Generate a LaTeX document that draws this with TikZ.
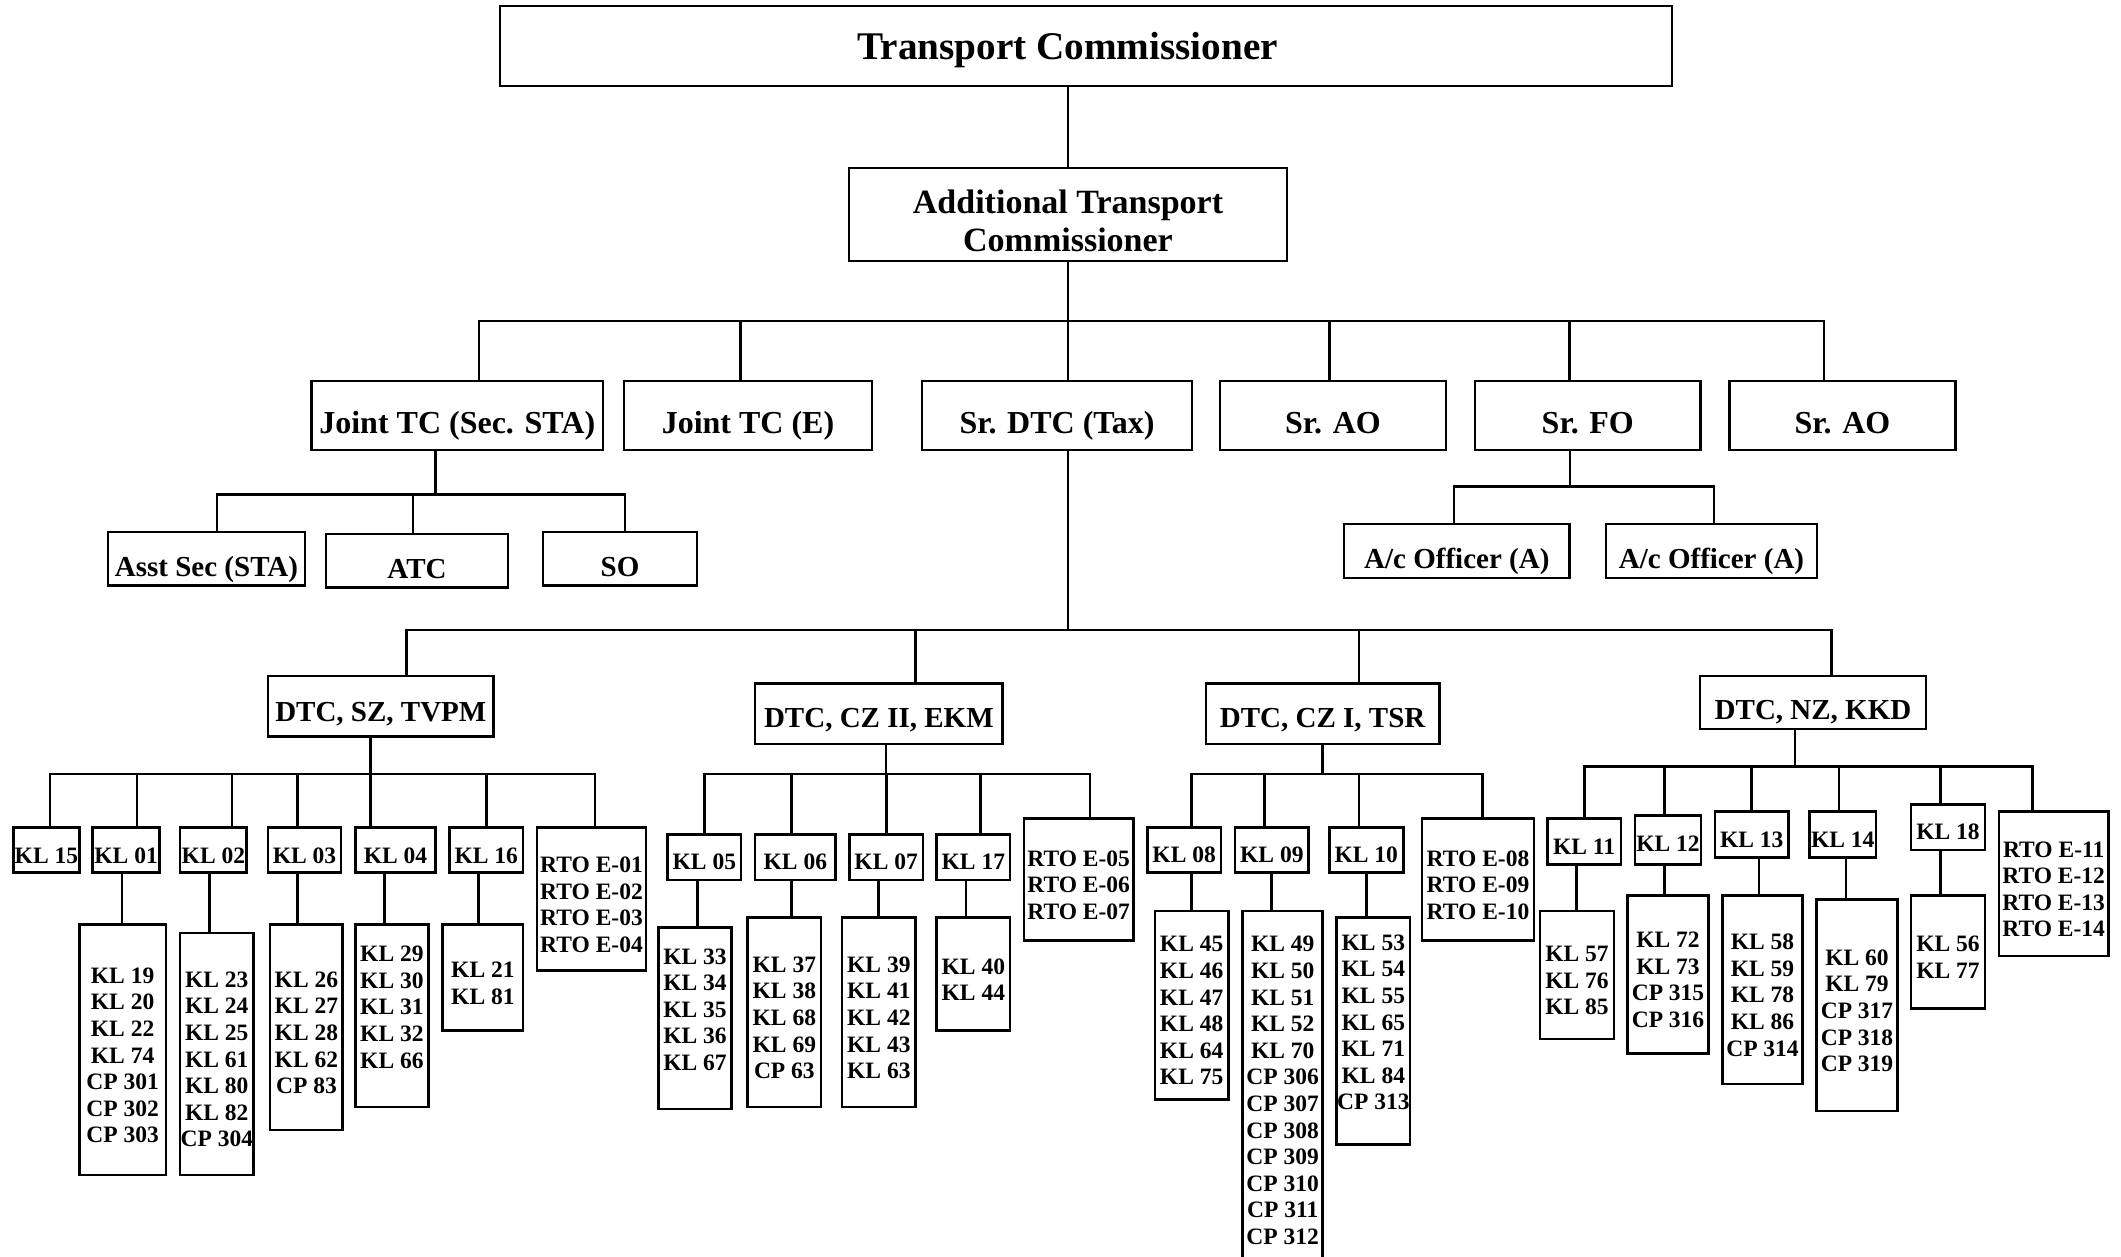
\documentclass[tikz,border=0pt]{standalone}
\usepackage{fontspec}
\setmainfont{Liberation Serif}
\newcommand\lsttop{\rule{0pt}{13.3pt}}
\newcommand\lstbot{\rule[-8.8pt]{0pt}{8.8pt}}
\begin{document}
\begin{tikzpicture}[x=0.5pt,y=-0.5pt,
  bx/.style={draw,line width=1.4pt,rectangle,inner sep=0pt,outer sep=0pt},
  lst/.style={draw,line width=1.4pt,rectangle,inner sep=0pt,outer sep=0pt,align=center,font=\fontsize{11.75}{13.3}\selectfont\bfseries},
  ln/.style={line width=1.4pt},
  fA/.style={font=\fontsize{19.6}{22}\selectfont\bfseries},
  fB/.style={font=\fontsize{16}{18}\selectfont\bfseries},
  fC/.style={font=\fontsize{14.5}{16}\selectfont\bfseries},
  fK/.style={font=\fontsize{11.75}{13.3}\selectfont\bfseries},
  sz/.style 2 args={minimum width=#1pt,minimum height=#2pt},
  th/.style={text height=#1pt,text depth=0pt}
]
\useasboundingbox (0,0) rectangle (2121,1257);
\fill[white] (0,0) rectangle (2121,1257);

% ---- top levels
\node[bx,fA,sz={586}{40},th={13.3}] (tc) at (1086,46) {Transport Commissioner\hspace*{18.2pt}};
\node[bx,align=center,font=\fontsize{17}{19}\selectfont\bfseries,sz={219}{46.5}] (atc) at (1068,214.5) {\rule{0pt}{18.5pt}Additional Transport\\Commissioner};

\node[bx,fB,sz={145.75}{34.5},th={17.5}] (jtcs) at (457.25,415.5) {Joint TC (Sec. STA)};
\node[bx,fB,sz={124}{34.5},th={18}] (jtce) at (748,415.5) {Joint TC (E)};
\node[bx,fB,sz={135}{34.5},th={18}] (srdtc) at (1057,415.5) {Sr. DTC (Tax)};
\node[bx,fB,sz={113}{34.5},th={18}] (srao1) at (1333,415.5) {Sr. AO};
\node[bx,fB,sz={112.8}{34.5},th={18}] (srfo) at (1587.8,415.5) {Sr. FO};
\node[bx,fB,sz={112.9}{34.5},th={18}] (srao2) at (1842.5,415.5) {Sr. AO};

\node[bx,fC,sz={98.5}{26.75},th={17.25}] (asst) at (206.5,558.75) {Asst Sec (STA)};
\node[bx,fC,sz={91}{26.75},th={17.25}] (atcb) at (417,560.75) {ATC};
\node[bx,fC,sz={77}{26.75},th={17.25}] (so) at (620,558.75) {SO};
\node[bx,fC,sz={112.8}{27},th={17}] (ac1) at (1456.8,551) {A/c Officer (A)};
\node[bx,fC,sz={105.5}{27},th={17}] (ac2) at (1711.5,551) {A/c Officer (A)};

% ---- zones
\node[bx,fC,sz={112.8}{30.3},th={15.2}] (dsz) at (380.8,706.3) {DTC, SZ, TVPM};
\node[bx,fC,sz={123.85}{30.1},th={13.9}] (dcz2) at (878.85,713.9) {DTC, CZ II, EKM};
\node[bx,fC,sz={116.65}{30.1},th={13.9}] (dcz1) at (1322.65,713.9) {DTC, CZ I, TSR};
\node[bx,fC,sz={113}{26.5},th={16.9}] (dnz) at (1813,702.5) {DTC, NZ, KKD};

% ---- KL row, SZ
\node[bx,fK,sz={32.8}{22.65},th={12.85}] (kl15) at (46.4,850.15) {KL 15};
\node[bx,fK,sz={33.3}{22.65},th={12.85}] (kl01) at (126.1,850.15) {KL 01};
\node[bx,fK,sz={33.4}{22.65},th={12.85}] (kl02) at (213.4,850.15) {KL 02};
\node[bx,fK,sz={36.5}{22.65},th={12.85}] (kl03) at (304.5,850.15) {KL 03};
\node[bx,fK,sz={40.1}{22.65},th={12.85}] (kl04) at (395.5,850.15) {KL 04};
\node[bx,fK,sz={36.7}{22.65},th={12.85}] (kl16) at (486.3,850.15) {KL 16};
\node[lst,sz={54.5}{71.65}] (rto1) at (591.5,899.15) {\lsttop RTO E-01\\RTO E-02\\RTO E-03\\RTO E-04};

% ---- KL row, CZ II
\node[bx,fK,sz={36.65}{22.7},th={12.1}] (kl05) at (704.35,857.3) {KL 05};
\node[bx,fK,sz={40.35}{22.7},th={12.1}] (kl06) at (795.35,857.3) {KL 06};
\node[bx,fK,sz={36.85}{22.7},th={12.1}] (kl07) at (886.15,857.3) {KL 07};
\node[bx,fK,sz={36.65}{22.7},th={12.1}] (kl17) at (973.35,857.3) {KL 17};
\node[lst,sz={54.65}{60.95}] (rto2) at (1078.65,879.65) {\lsttop RTO E-05\\RTO E-06\\RTO E-07};

% ---- KL row, CZ I
\node[bx,fK,sz={36.85}{22.65},th={12.5}] (kl08) at (1184.15,850.15) {KL 08};
\node[bx,fK,sz={36.85}{22.65},th={12.5}] (kl09) at (1271.85,850.15) {KL 09};
\node[bx,fK,sz={37}{22.65},th={12.5}] (kl10) at (1366.3,850.15) {KL 10};
\node[lst,sz={56}{60.95}] (rto3) at (1478,879.65) {\lsttop RTO E-08\\RTO E-09\\RTO E-10};

% ---- KL row, NZ
\node[bx,fK,sz={36.85}{23.05},th={12.5}] (kl11) at (1584.15,841.75) {KL 11};
\node[bx,fK,sz={33}{24.5},th={11.1}] (kl12) at (1668,840.3) {KL 12};
\node[bx,fK,sz={36.65}{23.05},th={12.5}] (kl13) at (1751.65,834.65) {KL 13};
\node[bx,fK,sz={33.35}{23.05},th={12.5}] (kl14) at (1842.65,834.65) {KL 14};
\node[bx,fK,sz={37}{22.75},th={12.5}] (kl18) at (1948,827.25) {KL 18};
\node[lst,sz={54.65}{72.2}] (rto4) at (2053.65,883.8) {\lsttop RTO E-11\\RTO E-12\\RTO E-13\\RTO E-14};

% ---- sub offices
\node[lst,sz={43.4}{125.15}] (c01) at (122.6,1049.85) {\lsttop KL 19\\KL 20\\KL 22\\KL 74\\CP 301\\CP 302\\CP 303};
\node[lst,sz={36.8}{121}] (c02) at (216.8,1054) {\lsttop KL 23\\KL 24\\KL 25\\KL 61\\KL 80\\KL 82\\CP 304};
\node[lst,sz={36.4}{102.65}] (c03) at (306.4,1027.35) {\lsttop KL 26\\KL 27\\KL 28\\KL 62\\CP 83};
\node[lst,sz={36.5}{91.15}] (c04) at (391.9,1015.85) {KL 29\\KL 30\\KL 31\\KL 32\\KL 66\lstbot};
\node[lst,sz={40.1}{53}] (c16) at (482.9,977.7) {\lsttop KL 21\\KL 81};
\node[lst,sz={36.7}{90.65}] (c05) at (695,1018.35) {KL 33\\KL 34\\KL 35\\KL 36\\KL 67\lstbot};
\node[lst,sz={36.65}{94.7}] (c06) at (784.35,1012.3) {\lsttop KL 37\\KL 38\\KL 68\\KL 69\\CP 63};
\node[lst,sz={36.85}{94.7}] (c07) at (878.85,1012.3) {\lsttop KL 39\\KL 41\\KL 42\\KL 43\\KL 63};
\node[lst,sz={36.65}{56.55}] (c17) at (973.35,974.15) {\lsttop KL 40\\KL 44};
\node[lst,sz={36.65}{94.2}] (c08) at (1191.65,1005.2) {\lsttop KL 45\\KL 46\\KL 47\\KL 48\\KL 64\\KL 75};
\node[lst,sz={40}{179.5}] (c09) at (1282.7,1090.5) {KL 49\\KL 50\\KL 51\\KL 52\\KL 70\\CP 306\\CP 307\\CP 308\\CP 309\\CP 310\\CP 311\\CP 312};
\node[lst,sz={36.65}{113.55}] (c10) at (1373.35,1031.15) {KL 53\\KL 54\\KL 55\\KL 65\\KL 71\\KL 84\\CP 313\lstbot};
\node[lst,sz={37}{64}] (c11) at (1577,975) {\lsttop KL 57\\KL 76\\KL 85};
\node[lst,sz={40.3}{79}] (c12) at (1668,974.4) {\lsttop KL 72\\KL 73\\CP 315\\CP 316};
\node[lst,sz={40.2}{94.3}] (c13) at (1762.5,989.7) {\lsttop KL 58\\KL 59\\KL 78\\KL 86\\CP 314};
\node[lst,sz={40.3}{105.7}] (c14) at (1857,1005.3) {\lsttop KL 60\\KL 79\\CP 317\\CP 318\\CP 319};
\node[lst,sz={37}{56.55}] (c18) at (1948,951.95) {\lsttop KL 56\\KL 77};

% ---- connectors, top
\draw[ln] (atc.north) |- (tc.south);
\draw[ln] (atc.south) -- ++(0,60) coordinate (jt);
\draw[ln] (jt) -| ([xshift=10.9pt]jtcs.north);
\draw[ln] (jt) -| ([xshift=-3.8pt]jtce.north);
\draw[ln] (jt) -| ([xshift=5.5pt]srdtc.north);
\draw[ln] (jt) -| ([xshift=-1.7pt]srao1.north);
\draw[ln] (jt) -| ([xshift=-9.1pt]srfo.north);
\draw[ln] (jt) -| ([xshift=-9.25pt]srao2.north);

\draw[ln] ([xshift=-10.8pt]jtcs.south) -- ++(0,44.5) coordinate (j1);
\draw[ln] (j1) -| ([xshift=5.25pt]asst.north);
\draw[ln] (j1) -| ([xshift=-2pt]atcb.north);
\draw[ln] (j1) -| ([xshift=2.5pt]so.north);

\draw[ln] ([xshift=-8.9pt]srfo.south) -- ++(0,36.8) coordinate (j2);
\draw[ln] (j2) -| ([xshift=-1.4pt]ac1.north);
\draw[ln] (j2) -| ([xshift=1.25pt]ac2.north);

\draw[ln] ([xshift=5.5pt]srdtc.south) -- ++(0,180) coordinate (jm);
\draw[ln] (jm) -| ([xshift=12.9pt]dsz.north);
\draw[ln] (jm) -| ([xshift=18.2pt]dcz2.north);
\draw[ln] (jm) -| ([xshift=18.2pt]dcz1.north);
\draw[ln] (jm) -| ([xshift=9.35pt]dnz.north);

% ---- SZ
\draw[ln] ([xshift=-5.2pt]dsz.south) -- ++(0,37.4) coordinate (j3);
\draw[ln] (j3) -| ([xshift=1.8pt]kl15.north);
\draw[ln] (j3) -| ([xshift=5.45pt]kl01.north);
\draw[ln] (j3) -| ([xshift=9.3pt]kl02.north);
\draw[ln] (j3) -| ([xshift=-3.5pt]kl03.north);
\draw[ln] (j3) -| ([xshift=-12.55pt]kl04.north);
\draw[ln] (j3) -| (kl16.north);
\draw[ln] (j3) -| ([xshift=1.75pt]rto1.north);
\draw[ln] ([xshift=-2.05pt]kl01.south) |- (c01.north);
\draw[ln] ([xshift=-1.9pt]kl02.south) |- (c02.north);
\draw[ln] ([xshift=-3.5pt]kl03.south) |- (c03.north);
\draw[ln] ([xshift=-5.55pt]kl04.south) |- (c04.north);
\draw[ln] ([xshift=-3.85pt]kl16.south) |- (c16.north);

% ---- CZ II
\draw[ln] ([xshift=3.6pt]dcz2.south) -- ++(0,30) coordinate (j4);
\draw[ln] (j4) -| (kl05.north);
\draw[ln] (j4) -| ([xshift=-1.8pt]kl06.north);
\draw[ln] (j4) -| (kl07.north);
\draw[ln] (j4) -| ([xshift=3.7pt]kl17.north);
\draw[ln] (j4) -| ([xshift=5.7pt]rto2.north);
\draw[ln] ([xshift=-3.5pt]kl05.south) |- (c05.north);
\draw[ln] ([xshift=-1.8pt]kl06.south) |- (c06.north);
\draw[ln] ([xshift=-3.7pt]kl07.south) |- (c07.north);
\draw[ln] ([xshift=-3.7pt]kl17.south) |- (c17.north);

% ---- CZ I
\draw[ln] (dcz1.south) -- ++(0,30) coordinate (j5);
\draw[ln] (j5) -| ([xshift=3.8pt]kl08.north);
\draw[ln] (j5) -| ([xshift=-3.8pt]kl09.north);
\draw[ln] (j5) -| ([xshift=-3.65pt]kl10.north);
\draw[ln] (j5) -| ([xshift=2.15pt]rto3.north);
\draw[ln] ([xshift=3.8pt]kl08.south) |- (c08.north);
\draw[ln] (kl09.south) |- (c09.north);
\draw[ln] (kl10.south) |- (c10.north);

% ---- NZ
\draw[ln] ([xshift=-9pt]dnz.south) -- ++(0,37.8) coordinate (j6);
\draw[ln] (j6) -| (kl11.north);
\draw[ln] (j6) -| ([xshift=-1.85pt]kl12.north);
\draw[ln] (j6) -| (kl13.north);
\draw[ln] (j6) -| ([xshift=-1.8pt]kl14.north);
\draw[ln] (j6) -| ([xshift=-3.65pt]kl18.north);
\draw[ln] (j6) -| ([xshift=-10.5pt]rto4.north);
\draw[ln] ([xshift=-3.7pt]kl11.south) |- (c11.north);
\draw[ln] ([xshift=-1.85pt]kl12.south) |- (c12.north);
\draw[ln] ([xshift=3.7pt]kl13.south) |- (c13.north);
\draw[ln] ([xshift=1.7pt]kl14.south) |- (c14.north);
\draw[ln] ([xshift=-3.65pt]kl18.south) |- (c18.north);
\end{tikzpicture}
\end{document}
